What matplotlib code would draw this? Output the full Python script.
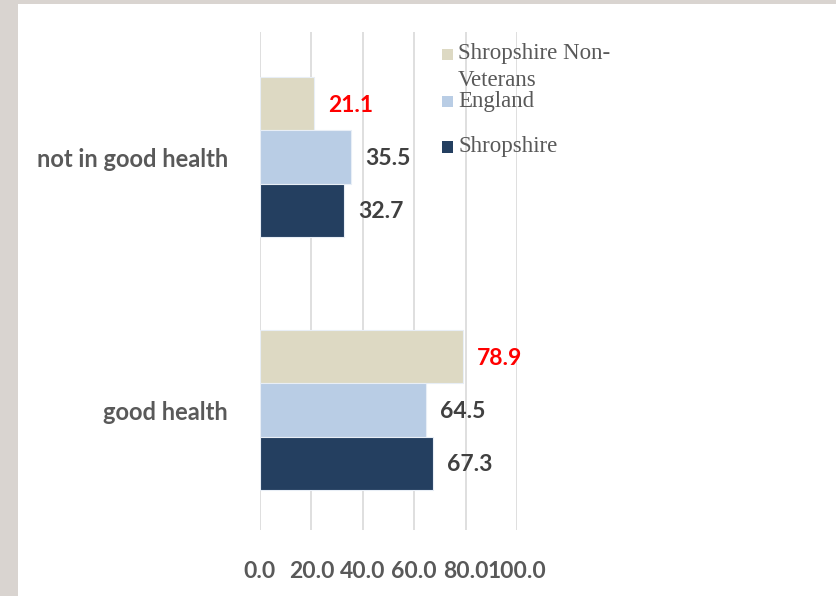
import matplotlib
matplotlib.use("Agg")
import matplotlib.pyplot as plt
from matplotlib.patches import Rectangle
from matplotlib import font_manager

categories = ["not in good health", "good health"]
series_names = ["Shropshire Non-\nVeterans", "England", "Shropshire"]
non_veterans = [21.1, 78.9]
england = [35.5, 64.5]
shropshire = [32.7, 67.3]
x_ticks = [0, 20, 40, 60, 80, 100]
x_tick_labels = ["0.0", "20.0", "40.0", "60.0", "80.0", "100.0"]

colors = ["#DDD9C3", "#B9CDE5", "#243F60"]
label_colors = ["#FF0000", "#404040", "#404040"]

avail = {f.name for f in font_manager.fontManager.ttflist}
sans = [f for f in ["Lato", "Liberation Sans", "DejaVu Sans"] if f in avail]
serif = [f for f in ["Liberation Serif", "DejaVu Serif"] if f in avail]

fig = plt.figure(figsize=(8.36, 5.96), dpi=100, facecolor="#D9D4D0")
fig.patches.append(Rectangle((18 / 836, 0), 1 - 18 / 836, 1 - 4 / 596,
                             transform=fig.transFigure, facecolor="white",
                             edgecolor="none", zorder=-10))

ax = fig.add_axes([260 / 836, 1 - 530 / 596, 257 / 836, 498 / 596])
ax.set_zorder(1)
ax.set_facecolor("none")

bar_h = 0.21
offsets = [-bar_h, 0.0, bar_h]
all_series = [non_veterans, england, shropshire]
for vals, off, col, lcol in zip(all_series, offsets, colors, label_colors):
    ys = [i + off for i in range(len(categories))]
    ax.barh(ys, vals, height=bar_h, color=col, edgecolor="#E8EEF6", linewidth=0.8, zorder=3)
    for y, v in zip(ys, vals):
        ax.annotate(f"{v:.1f}", xy=(v, y), xytext=(10, -1), textcoords="offset points",
                    ha="left", va="center", fontsize=16.5, fontweight="bold",
                    color=lcol, family=sans, zorder=4)

ax.set_xlim(0, 100)
ax.set_ylim(1.474, -0.494)
ax.set_xticks(x_ticks)
ax.set_xticklabels(x_tick_labels, fontsize=16.5, fontweight="bold", color="#595959", family=sans)
ax.set_yticks(range(len(categories)))
ax.set_yticklabels(categories, fontsize=17, fontweight="bold", color="#595959", family=sans)
ax.tick_params(axis="both", length=0)
ax.tick_params(axis="x", pad=22)
ax.tick_params(axis="y", pad=23)
ax.xaxis.grid(True, color="#D9D9D9", linewidth=1.2, zorder=0)
ax.set_axisbelow(True)
for sp in ax.spines.values():
    sp.set_visible(False)

# legend drawn manually to match the irregular spacing of the reference
leg_y = [54, 101, 147]
for sy, col in zip(leg_y, colors):
    fig.patches.append(Rectangle((442 / 836, 1 - (sy + 5.5) / 596), 11 / 836, 11 / 596,
                                 transform=fig.transFigure, facecolor=col,
                                 edgecolor="none", zorder=5))
leg_lines = [("Shropshire Non-", 54), ("Veterans", 80), (series_names[1], 101), (series_names[2], 147)]
for txt, ty in leg_lines:
    fig.text(458 / 836, 1 - ty / 596, txt, fontsize=16.5, color="#595959",
             family=serif, va="center", ha="left", zorder=6)

fig.savefig("out.png", dpi=100, facecolor=fig.get_facecolor())
